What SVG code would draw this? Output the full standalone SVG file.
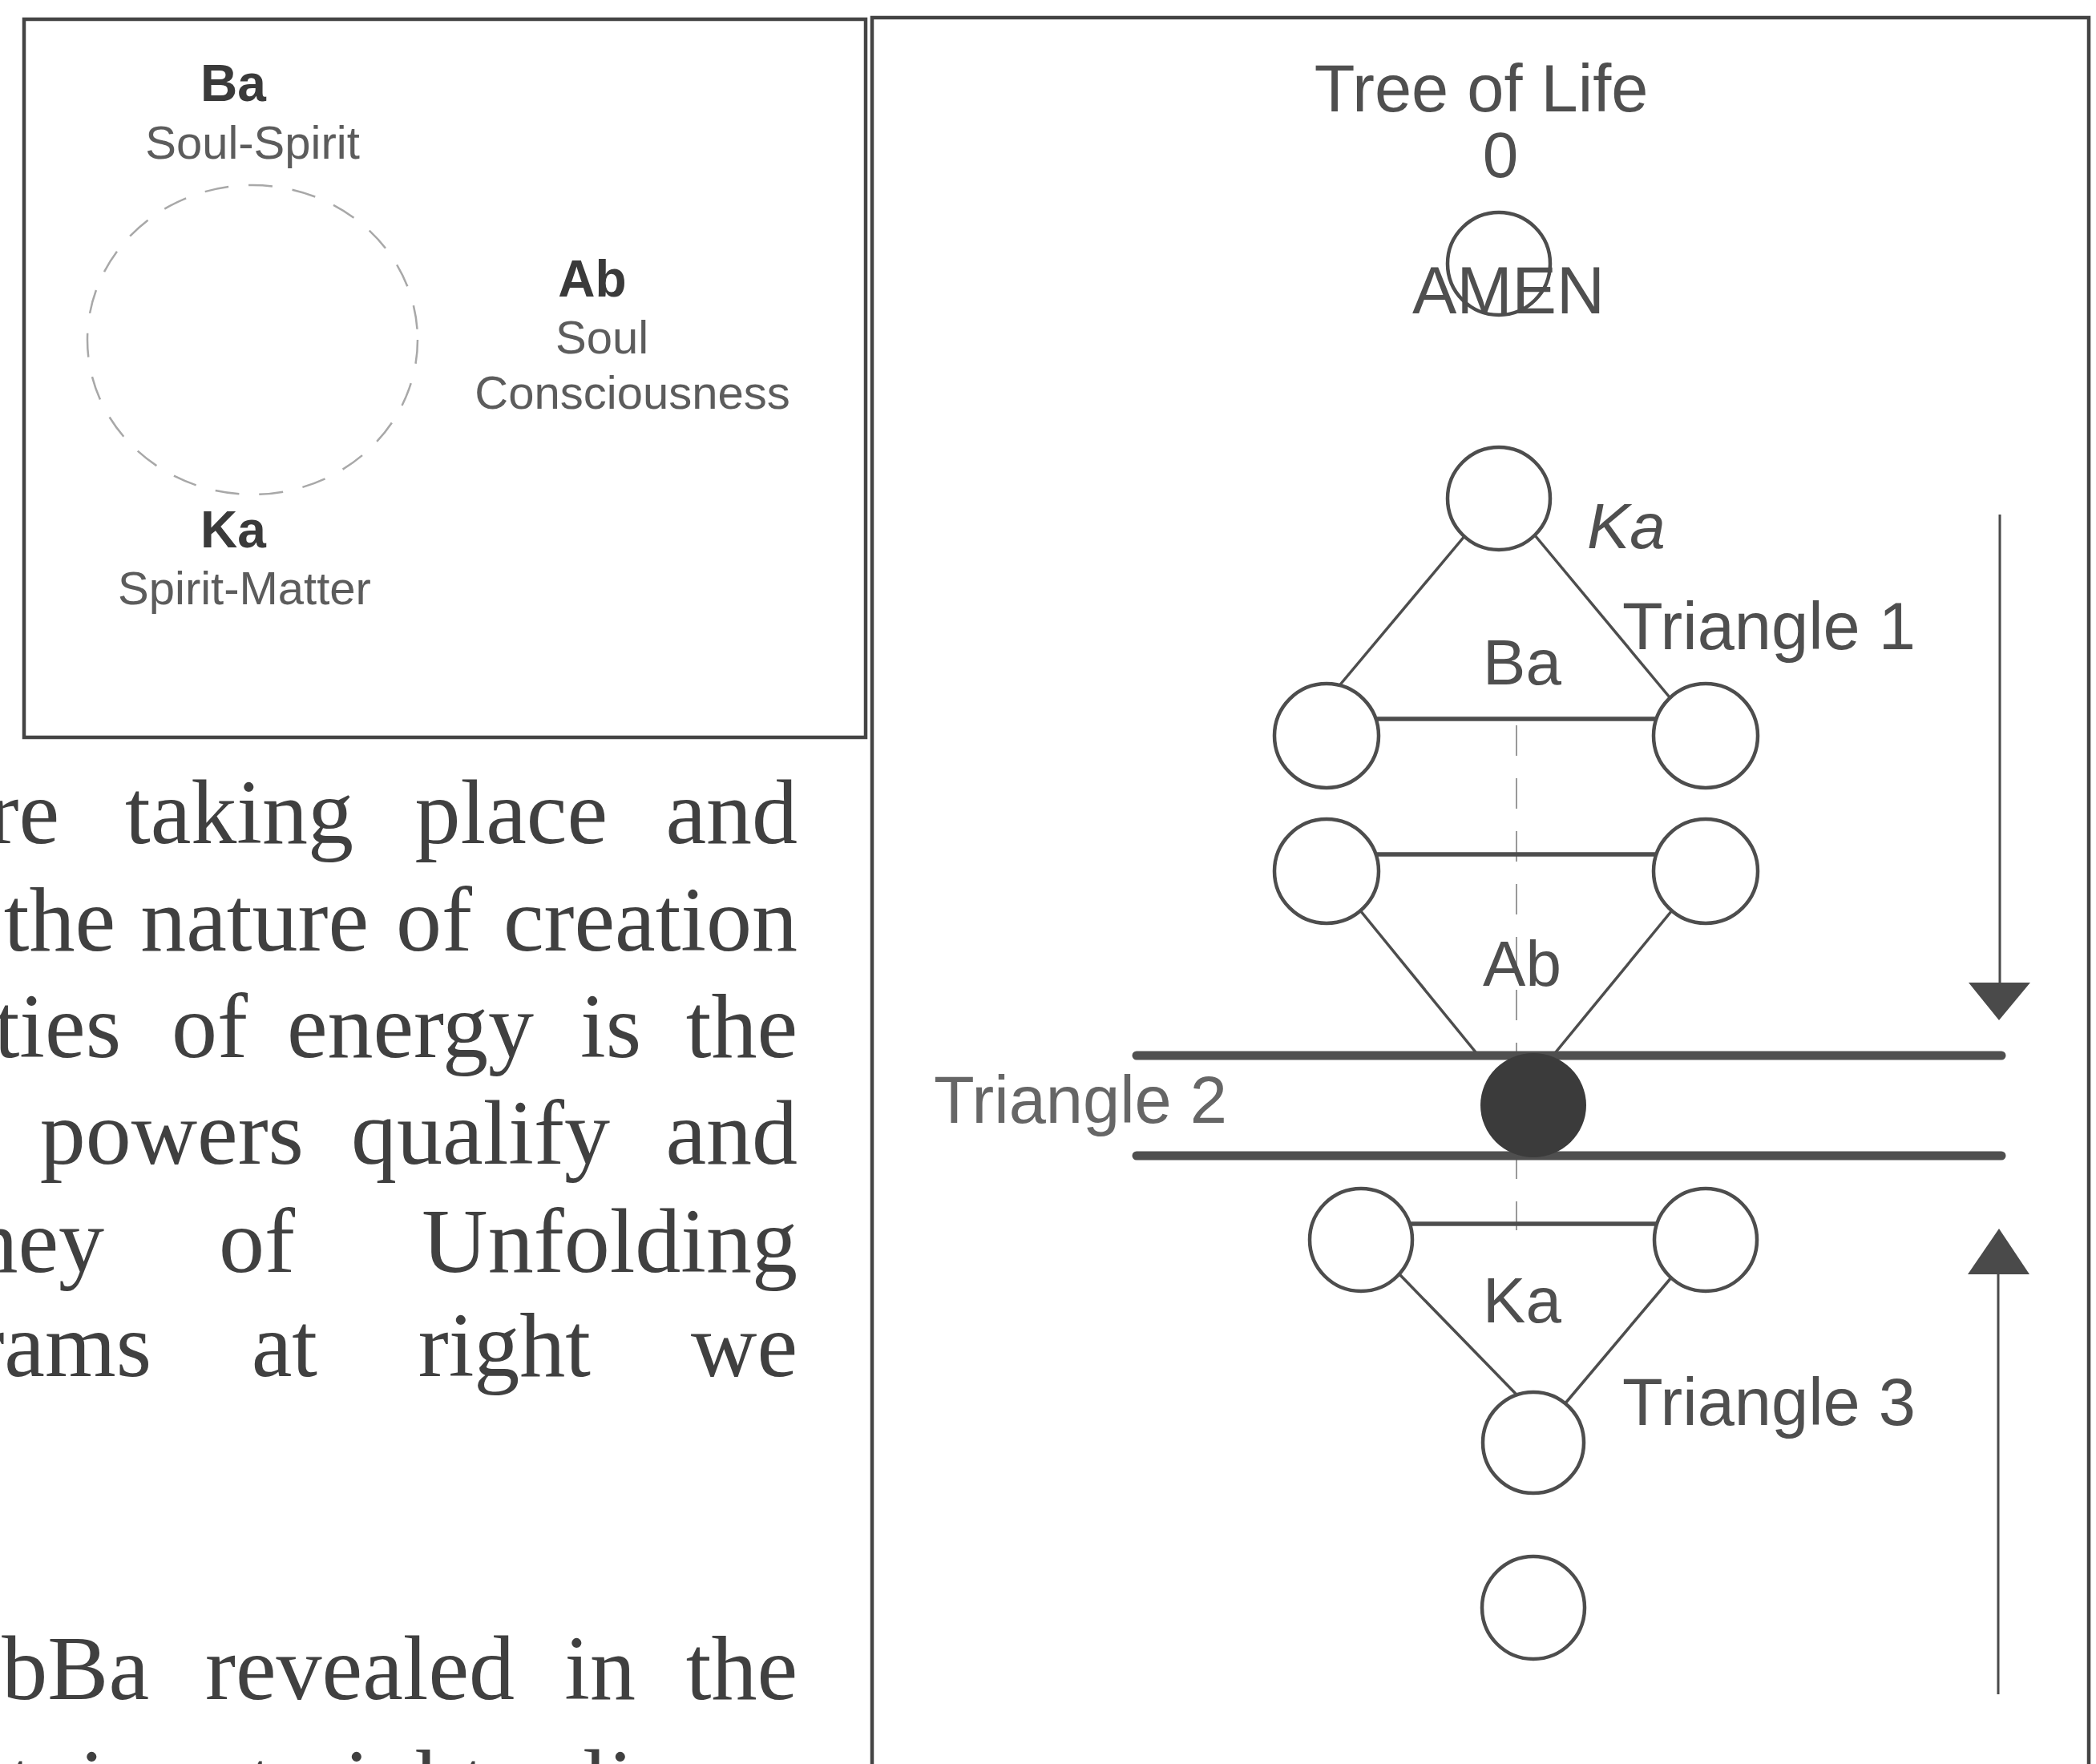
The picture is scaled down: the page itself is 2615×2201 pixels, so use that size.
<svg xmlns="http://www.w3.org/2000/svg" width="2615" height="2201" viewBox="0 0 2615 2201">
<defs>
<style>
.sans{font-family:"Liberation Sans",Arial,sans-serif;}
.lbl{font-size:80px;fill:#4f4f4f;}
.big{font-size:83px;}
.mid{text-anchor:middle;}
.small{font-size:58px;fill:#5c5c5c;}
.bold{font-size:64px;font-weight:bold;fill:#3a3a3a;}
.body{font-family:"Liberation Serif","Times New Roman",serif;font-size:114px;fill:#404040;text-anchor:end;}
.node{fill:#fff;stroke:#4d4d4d;stroke-width:4.5;}
.edge{stroke:#4d4d4d;stroke-width:3.5;fill:none;}
.rung{stroke:#4d4d4d;stroke-width:5.5;}
.bar{stroke:#4f4f4f;stroke-width:11;stroke-linecap:round;}
.frame{fill:none;stroke:#444;stroke-width:4.5;}
.axis{stroke:#9a9a9a;stroke-width:2;stroke-dasharray:38 28;}
.shaft{stroke:#4a4a4a;stroke-width:3;}
.head{fill:#4a4a4a;}
</style>
</defs>
<rect x="0" y="0" width="2615" height="2201" fill="#fff"/>

<!-- Left box -->
<g id="left-box">
<rect class="frame" x="30" y="24" width="1050" height="896"/>
<ellipse cx="315" cy="424" rx="206" ry="193" fill="none" stroke="#a8a8a8" stroke-width="2.5" stroke-dasharray="30 25"/>
</g>
<g id="ba-label" class="sans">
<text class="bold mid" x="291" y="126">Ba</text>
<text class="small mid" x="315" y="198">Soul-Spirit</text>
</g>
<g id="ab-label" class="sans">
<text class="bold mid" x="739" y="370">Ab</text>
<text class="small mid" x="751" y="441">Soul</text>
<text class="small mid" x="789" y="510">Consciousness</text>
</g>
<g id="ka-label" class="sans">
<text class="bold mid" x="291" y="683">Ka</text>
<text class="small mid" x="305" y="754">Spirit-Matter</text>
</g>

<!-- Body text -->
<g id="body-text" class="body">
<text y="1052"><tspan x="74">re</tspan><tspan x="441">taking</tspan><tspan x="758">place</tspan><tspan x="995">and</tspan></text>
<text y="1186"><tspan x="144">the</tspan><tspan x="460">nature</tspan><tspan x="589">of</tspan><tspan x="995">creation</tspan></text>
<text y="1319"><tspan x="151">ties</tspan><tspan x="309">of</tspan><tspan x="666">energy</tspan><tspan x="800">is</tspan><tspan x="995">the</tspan></text>
<text y="1452"><tspan x="379">powers</tspan><tspan x="761">qualify</tspan><tspan x="995">and</tspan></text>
<text y="1587"><tspan x="130">ney</tspan><tspan x="368">of</tspan><tspan x="995">Unfolding</tspan></text>
<text y="1717"><tspan x="189">rams</tspan><tspan x="396">at</tspan><tspan x="737">right</tspan><tspan x="995">we</tspan></text>
<text y="2120"><tspan x="186">bBa</tspan><tspan x="642">revealed</tspan><tspan x="793">in</tspan><tspan x="995">the</tspan></text>
<text y="2262"><tspan x="42">t</tspan><tspan x="188">in</tspan><tspan x="250">a</tspan><tspan x="607">straight</tspan><tspan x="898">line</tspan><tspan x="995">as</tspan></text>
</g>

<!-- Right frame -->
<g id="right-frame">
<path class="frame" d="M1088,2201 V22 H2606 V2201"/>
</g>

<!-- Connectors -->
<g id="connectors">
<line class="axis" x1="1892" y1="905" x2="1892" y2="1535"/>
<line class="edge" x1="1828" y1="668" x2="1668" y2="859"/>
<line class="edge" x1="1915" y1="668" x2="2083" y2="870"/>
<line class="rung" x1="1715" y1="897" x2="2066" y2="897"/>
<line class="rung" x1="1715" y1="1066" x2="2066" y2="1066"/>
<line class="edge" x1="1697" y1="1136" x2="1842" y2="1314"/>
<line class="edge" x1="2086" y1="1136" x2="1940" y2="1314"/>
<line class="bar" x1="1418" y1="1317" x2="2497" y2="1317"/>
<line class="bar" x1="1418" y1="1442" x2="2497" y2="1442"/>
<line class="rung" x1="1758" y1="1527" x2="2066" y2="1527"/>
<line class="edge" x1="1746" y1="1590" x2="1892" y2="1740"/>
<line class="edge" x1="2086" y1="1593" x2="1952" y2="1752"/>
<line class="shaft" x1="2495" y1="642" x2="2495" y2="1230"/>
<polygon class="head" points="2456,1226 2533,1226 2494,1273"/>
<line class="shaft" x1="2493" y1="1586" x2="2493" y2="2114"/>
<polygon class="head" points="2455,1590 2532,1590 2494,1533"/>
</g>

<!-- Nodes -->
<g id="title" class="sans lbl">
<text class="mid big" x="1848" y="139">Tree of Life</text>
<text class="mid" x="1872" y="221">0</text>
</g>
<g id="node-amen" class="sans lbl">
<text class="mid big" x="1882" y="391">AMEN</text>
<circle cx="1870" cy="329" r="64" fill="none" stroke="#4d4d4d" stroke-width="4.5"/>
</g>
<g id="node-top">
<circle class="node" cx="1870" cy="622" r="64"/>
<text class="sans lbl" x="1980" y="684" font-style="italic">Ka</text>
</g>
<g id="node-t1-left"><circle class="node" cx="1655" cy="918" r="65"/></g>
<g id="node-t1-right"><circle class="node" cx="2128" cy="918" r="65"/></g>
<g id="node-t2-left"><circle class="node" cx="1655" cy="1087" r="65"/></g>
<g id="node-t2-right"><circle class="node" cx="2128" cy="1087" r="65"/></g>
<g id="node-center">
<ellipse cx="1913" cy="1379" rx="66" ry="65" fill="#3b3b3b"/>
</g>
<g id="node-t3-left"><circle class="node" cx="1698" cy="1547" r="64"/></g>
<g id="node-t3-right"><circle class="node" cx="2128" cy="1547" r="64"/></g>
<g id="node-t3-bottom"><circle class="node" cx="1913" cy="1800" r="63"/></g>
<g id="node-bottom"><circle class="node" cx="1913" cy="2006" r="64"/></g>

<g id="labels" class="sans lbl">
<text class="big" x="2024" y="810">Triangle 1</text>
<text class="mid" x="1899" y="854">Ba</text>
<text class="mid" x="1899" y="1230">Ab</text>
<text class="big" x="1165" y="1401" fill="#666">Triangle 2</text>
<text class="mid" x="1899" y="1650">Ka</text>
<text class="big" x="2024" y="1778">Triangle 3</text>
</g>
</svg>
